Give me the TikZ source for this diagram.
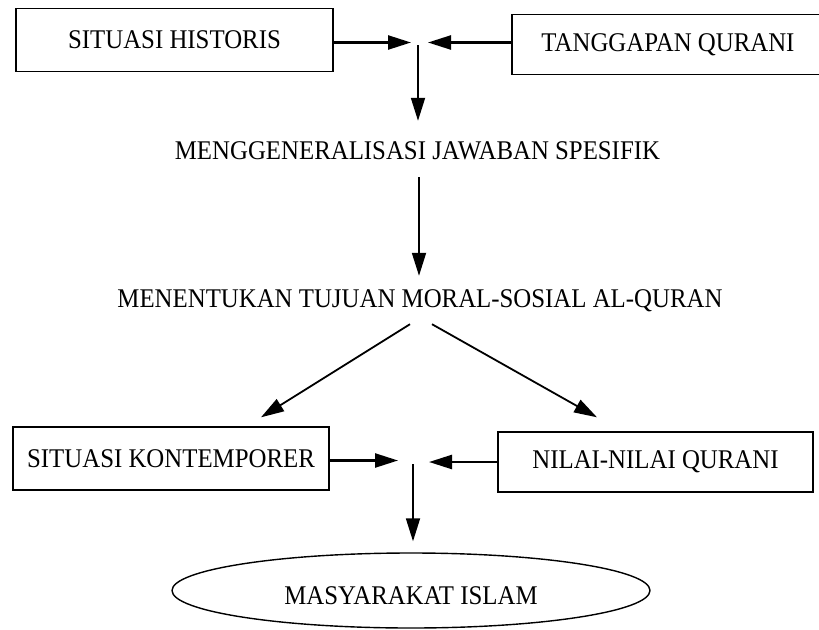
\documentclass[tikz,border=0pt]{standalone}
\usepackage{fontspec}
\setmainfont[FakeStretch=0.92]{Liberation Serif}
\usetikzlibrary{arrows.meta,shapes.geometric}
\tikzset{
  labelfont/.style={font=\fontsize{27}{32}\selectfont},
  boxnode/.style={draw, line width=1.4pt, inner sep=0pt, labelfont},
  plaintext/.style={inner sep=0pt, text height=18pt, text depth=0pt, labelfont},
  ovalnode/.style={ellipse, draw, line width=1.4pt, inner sep=0pt, minimum width=478pt, minimum height=75pt,
                   text height=28pt, text depth=0pt, labelfont},
  harrow/.style={line width=2.4pt, -{Triangle[length=23pt,width=14pt]}},
  varrow/.style={line width=1.8pt, -{Triangle[length=23pt,width=14pt]}},
}
\begin{document}
\begin{tikzpicture}[x=1pt,y=-1pt]
\useasboundingbox (0,0) rectangle (819,629);
% top row
\node[boxnode, minimum width=317pt, minimum height=63pt] (b1) at (174.5,40) {SITUASI HISTORIS};
\node[boxnode, minimum width=312pt, minimum height=60pt] (b2) at (668,44.5) {TANGGAPAN QURANI};
\coordinate (j1L) at (411,42.5);
\coordinate (j1R) at (428,42.5);
\coordinate (j1B) at (418,45);
\draw[harrow] (b1.east |- j1L) -- (j1L);
\draw[harrow] (b2.west |- j1R) -- (j1R);
% middle texts
\node[plaintext] (t1) at (417.5,150) {MENGGENERALISASI JAWABAN SPESIFIK};
\node[plaintext] (t2) at (420,298) {MENENTUKAN TUJUAN MORAL-SOSIAL AL-QURAN};
\draw[varrow, shorten >=20pt] (j1B) -- (j1B |- t1.north);
\draw[varrow, shorten <=18pt, shorten >=13pt] (t1.south -| 419,0) -- (t2.north -| 419,0);
% bottom row
\node[boxnode, minimum width=316pt, minimum height=63pt] (b3) at (171,458.5) {SITUASI KONTEMPORER};
\node[boxnode, minimum width=315pt, minimum height=60pt] (b4) at (655.5,462) {NILAI-NILAI QURANI};
\draw[varrow] ([xshift=-10pt,yshift=-17pt]t2.south) -- ([xshift=90pt,yshift=9pt]b3.north);
\draw[varrow] ([xshift=12pt,yshift=-17pt]t2.south) -- ([xshift=-58.5pt,yshift=14pt]b4.north);
\coordinate (j2L) at (398,460.5);
\coordinate (j2R) at (429,462);
\coordinate (j2B) at (413,464);
\draw[harrow] (b3.east |- j2L) -- (j2L);
\draw[harrow] (b4.west |- j2R) -- (j2R);
\node[ovalnode] (e) at (411,590.5) {MASYARAKAT ISLAM};
\draw[varrow, shorten >=11pt] (j2B) -- (j2B |- e.north);
\end{tikzpicture}
\end{document}
